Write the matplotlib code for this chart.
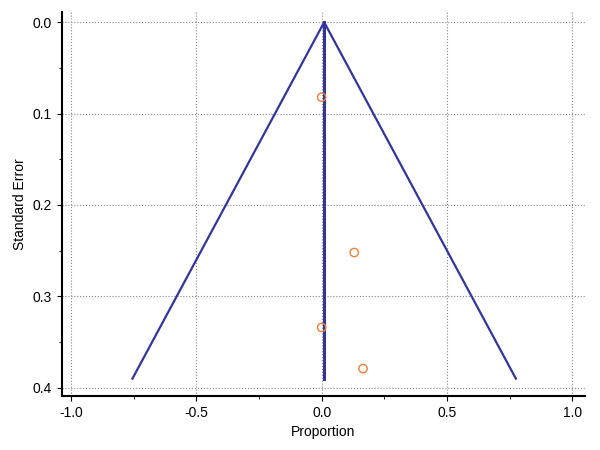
import matplotlib
matplotlib.use("Agg")
import matplotlib.pyplot as plt
import numpy as np
from matplotlib.ticker import MultipleLocator

plt.rcParams['font.family'] = ['Liberation Sans', 'DejaVu Sans']

pooled = 0.01
se_max = 0.39
prop = [0.0, 0.13, 0.0, 0.165]
se = [0.082, 0.252, 0.334, 0.379]

fig = plt.figure(figsize=(6, 4.5), dpi=100)
ax = fig.add_axes([0.103, 0.12, 0.872, 0.853])
col = "#33359a"
ax.plot([pooled - 1.96 * se_max, pooled, pooled + 1.96 * se_max], [se_max, 0, se_max], color=col, lw=1.6)
ax.plot([pooled, pooled], [0, se_max], color=col, lw=2.2)
ax.scatter(prop, se, s=36, facecolors="none", edgecolors="#f07f3c", lw=1, zorder=3)
ax.set_xlim(-1.036, 1.05)
ax.set_ylim(0.409, -0.011)
ax.set_xticks(np.arange(-1.0, 1.01, 0.5))
ax.set_yticks(np.arange(0, 0.41, 0.1))
ax.xaxis.set_minor_locator(MultipleLocator(0.25))
ax.yaxis.set_minor_locator(MultipleLocator(0.05))
ax.xaxis.set_major_formatter(matplotlib.ticker.FormatStrFormatter('%.1f'))
ax.yaxis.set_major_formatter(matplotlib.ticker.FormatStrFormatter('%.1f'))
ax.grid(True, which="major", ls=":", color="#888888", lw=0.8)
for s in ["top", "right"]:
    ax.spines[s].set_visible(False)
for s in ["left", "bottom"]:
    ax.spines[s].set_linewidth(1.5)
ax.tick_params(labelsize=10, direction="out")
ax.set_xlabel("Proportion", fontsize=10)
ax.set_ylabel("Standard Error", fontsize=10)
fig.savefig("out.png")
